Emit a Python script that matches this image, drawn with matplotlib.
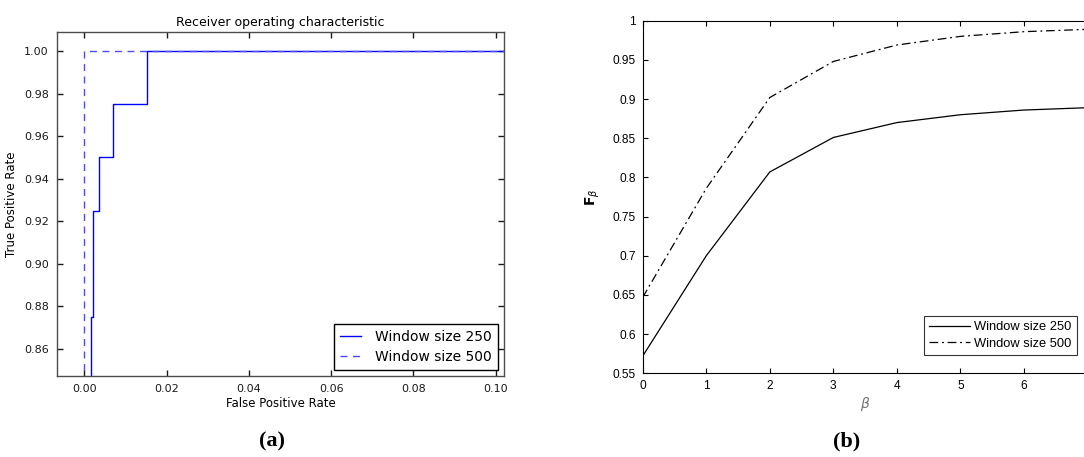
import numpy as np
import matplotlib
matplotlib.use('Agg')
import matplotlib.pyplot as plt
from matplotlib.ticker import FormatStrFormatter, FuncFormatter

# ROC curve points (left panel)
fpr_250 = [0.0016, 0.0016, 0.0021, 0.0021, 0.0021, 0.0035, 0.0035, 0.00705, 0.00705, 0.0153, 0.0153, 1.0]
tpr_250 = [0.0, 0.875, 0.875, 0.900, 0.925, 0.925, 0.950, 0.950, 0.975, 0.975, 1.0, 1.0]
fpr_500 = [0.0, 0.0, 1.0]
tpr_500 = [0.0, 1.0, 1.0]

# F-beta scores (right panel)
beta = [0, 1, 2, 3, 4, 5, 6, 7]
f_250 = [0.572, 0.700, 0.807, 0.851, 0.870, 0.880, 0.886, 0.889]
f_500 = [0.647, 0.786, 0.902, 0.948, 0.969, 0.980, 0.986, 0.989]

fig = plt.figure(figsize=(10.84, 4.57), dpi=100)

# ---- (a) ROC, classic matplotlib look ----
ax1 = fig.add_axes([0.0526, 0.1772, 0.4124, 0.7527])
ax1.plot(fpr_250, tpr_250, color='#0000ff', lw=1, label='Window size 250')
ax1.plot(fpr_500, tpr_500, color='#4a4aff', lw=1, dashes=(5, 4), label='Window size 500')
ax1.set_xlim(-0.0066, 0.102)
ax1.set_ylim(0.8473, 1.0089)
ax1.set_xticks(np.arange(0, 0.101, 0.02))
ax1.set_yticks(np.arange(0.86, 1.001, 0.02))
ax1.xaxis.set_major_formatter(FormatStrFormatter('%.2f'))
ax1.yaxis.set_major_formatter(FormatStrFormatter('%.2f'))
ax1.tick_params(direction='in', top=True, right=True, length=4, width=1,
                labelsize=8, pad=6, colors='0.1')
for s in ax1.spines.values():
    s.set_color('0.3')
    s.set_linewidth(1)
ax1.set_title('Receiver operating characteristic', fontsize=9, pad=4)
ax1.set_xlabel('False Positive Rate', fontsize=8.5, labelpad=2)
ax1.set_ylabel('True Positive Rate', fontsize=8.5, labelpad=4)
leg1 = ax1.legend(loc='lower right', fontsize=10, fancybox=False, framealpha=1,
                  handlelength=1.5, handletextpad=1.0, borderpad=0.45,
                  labelspacing=0.4, borderaxespad=0.45)
leg1.get_frame().set_edgecolor('k')
leg1.get_frame().set_linewidth(1)

# ---- (b) F-beta, MATLAB-like look (right edge cropped off in the source) ----
ax2 = fig.add_axes([0.5929, 0.1831, 0.4104, 0.7716])
ax2.plot(beta, f_250, color='k', lw=0.9, label='Window size 250')
ax2.plot(beta, f_500, color='k', lw=0.9, linestyle=(0, (7, 3, 1.5, 3)), label='Window size 500')
ax2.set_xlim(0, 7)
ax2.set_ylim(0.55, 1)
ax2.set_xticks(range(0, 7))
ax2.set_yticks(np.arange(0.55, 1.001, 0.05))
ax2.yaxis.set_major_formatter(FuncFormatter(lambda v, p: '%g' % round(v, 2)))
ax2.tick_params(direction='in', top=True, right=False, length=3.5, width=0.8,
                pad=5)
for lab in ax2.get_xticklabels() + ax2.get_yticklabels():
    lab.set_fontfamily('Liberation Sans')
    lab.set_fontsize(8.6)
for s in ax2.spines.values():
    s.set_color('k')
    s.set_linewidth(0.8)
ax2.set_xlabel(r'$\beta$', fontsize=10, color='0.45', labelpad=2)
ax2.set_ylabel(r'$\mathbf{F}_{\beta}$', fontsize=10, labelpad=8)
leg2 = ax2.legend(loc='lower right', bbox_to_anchor=(0.9755, 0.051),
                  borderaxespad=0,
                  prop={'family': 'Liberation Sans', 'size': 9.3},
                  fancybox=False, framealpha=1, handlelength=3.15,
                  handletextpad=0.3, borderpad=0.42, labelspacing=0.35)
leg2.get_frame().set_edgecolor('0.2')
leg2.get_frame().set_linewidth(0.8)

# panel captions
fig.text(272 / 1084, 1 - 441 / 457, '(a)', ha='center', va='center',
         fontsize=16, fontweight='bold', family='Liberation Serif')
fig.text(847 / 1084, 1 - 441 / 457, '(b)', ha='center', va='center',
         fontsize=16, fontweight='bold', family='Liberation Serif')

fig.savefig('out.png', dpi=100)
